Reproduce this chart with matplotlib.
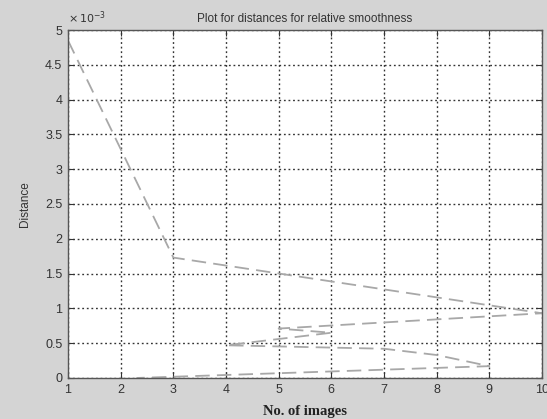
import matplotlib
matplotlib.use('Agg')
import matplotlib.pyplot as plt
from matplotlib.ticker import FuncFormatter

# points in the order they were drawn (x not sorted), distance in units of 1e-3
n_images = [1, 2, 3, 10, 5, 6, 4, 7, 8, 9, 2.3]
distance_e3 = [4.85, 3.29, 1.73, 0.93, 0.71, 0.65, 0.47, 0.42, 0.33, 0.17, 0.0]

xticks = [1, 2, 3, 4, 5, 6, 7, 8, 9, 10]
yticks = [0, 0.5, 1, 1.5, 2, 2.5, 3, 3.5, 4, 4.5, 5]

plt.rcParams['font.family'] = ['Liberation Sans', 'DejaVu Sans']

bg = '#d4d4d4'
fig = plt.figure(figsize=(5.47, 4.19), dpi=100, facecolor=bg)
ax = fig.add_axes([0.1243, 0.0979, 0.8666, 0.8305])

ax.plot(n_images, distance_e3, color='#a8a8a8', linestyle=(0, (8, 4)), linewidth=1.3)

ax.set_xlim(1, 10)
ax.set_ylim(0, 5)
ax.set_xticks(xticks)
ax.set_yticks(yticks)
ax.yaxis.set_major_formatter(FuncFormatter(lambda v, p: ('%g' % v)))

ax.grid(True, color='#333333', linestyle=(0, (1.3, 2.0)), linewidth=1.0)
ax.tick_params(direction='in', top=True, right=True, labelsize=9,
               colors='#333333', length=4, width=0.8, pad=4)
for sp in ax.spines.values():
    sp.set_color('#555555')
    sp.set_linewidth(1.0)

ax.set_title('Plot for distances for relative smoothness', fontsize=8.5, color='#333333', pad=6)
ax.set_ylabel('Distance', fontsize=8.5, color='#333333', labelpad=10)
ax.set_xlabel('No. of images', fontsize=10.5, fontweight='bold', family='Liberation Serif',
              color='#222222', labelpad=7)
ax.text(0.0, 1.012, r'$\times\,10^{-3}$', transform=ax.transAxes, fontsize=8,
        color='#333333', ha='left', va='bottom')

plt.savefig('out.png', dpi=100, facecolor=bg)
plt.close()
